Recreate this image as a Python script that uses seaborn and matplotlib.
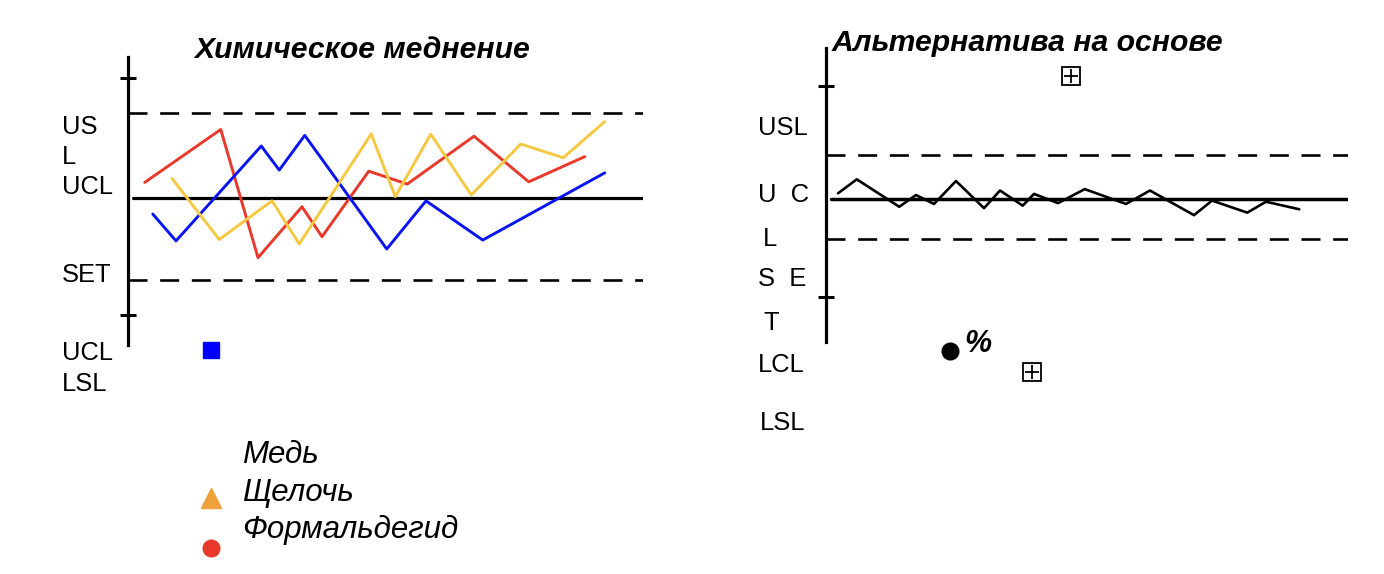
#--Import libraries--#
import seaborn as sns
import matplotlib.pyplot as plt
from matplotlib.lines import Line2D

#--Data (x = sample time, y = deviation from centre line)--#
copper_x = [0.99, 1.92, 5.33, 6.05, 7.07, 10.35, 11.92, 14.19, 19.07]
copper_y = [-0.57, -1.53, 1.86, 1.0, 2.24, -1.82, -0.1, -1.5, 0.9]

alkali_x = [1.76, 3.65, 5.76, 6.85, 9.73, 10.69, 12.11, 13.73, 15.71, 17.41, 19.07]
alkali_y = [0.7, -1.48, -0.1, -1.64, 2.29, 0.05, 2.28, 0.11, 1.93, 1.44, 2.73]

formal_x = [0.67, 3.71, 5.2, 6.96, 7.76, 9.63, 11.17, 13.84, 16.03, 18.27]
formal_y = [0.56, 2.45, -2.13, -0.31, -1.38, 0.96, 0.5, 2.21, 0.58, 1.48]

alt_x = [0.48, 1.23, 2.93, 3.6, 4.32, 5.2, 6.32, 6.96, 7.87, 8.32, 9.28,
         10.35, 12.0, 12.96, 14.72, 15.44, 16.85, 17.6, 18.93]
alt_y = [0.2, 0.7, -0.28, 0.14, -0.18, 0.64, -0.33, 0.3, -0.24, 0.18, -0.15,
         0.35, -0.18, 0.3, -0.58, -0.06, -0.49, -0.1, -0.37]

left_ucl, left_lcl = 3.04, -2.93
right_ucl, right_lcl = 1.57, -1.43

left_labels = ['US', 'L', 'UCL', 'SET', 'UCL', 'LSL']
right_labels = ['USL', 'U  C', 'L', 'S  E', 'T', 'LCL', 'LSL']
legend_names = ['Медь', 'Щелочь', 'Формальдегид']

#--Styling--#
sns.set_theme(style='white')
plt.rcParams['font.family'] = ['Liberation Sans', 'DejaVu Sans']
plt.rcParams['text.color'] = 'black'

W, H = 1384, 574
fig = plt.figure(figsize=(W / 100, H / 100), dpi=100)


def px(x, y):
    return x / W, 1 - y / H


def make_axes(x0, x1, y0, y1):
    l, b = px(x0, y1)
    return fig.add_axes([l, b, (x1 - x0) / W, (y1 - y0) / H])


dash = (0, (7.2, 4.8))


def style_axes(ax, xmax, ylo, yhi, ticks):
    ax.set_xlim(0, xmax)
    ax.set_ylim(ylo, yhi)
    for s in ['top', 'right', 'bottom']:
        ax.spines[s].set_visible(False)
    ax.spines['left'].set_linewidth(2.3)
    ax.spines['left'].set_color('black')
    ax.set_xticks([])
    ax.set_yticks(ticks)
    ax.set_yticklabels([])
    ax.tick_params(axis='y', left=True, direction='inout', length=12, width=2.2, color='black')
    ax.patch.set_alpha(0)


#--Left panel--#
ax1 = make_axes(128, 643, 57, 345)
style_axes(ax1, 20.6, -5.25, 5.04, [4.29, -4.18])
ax1.axhline(left_ucl, color='black', lw=1.9, ls=dash)
ax1.axhline(left_lcl, color='black', lw=1.9, ls=dash)
ax1.axhline(0, xmin=0.01, color='black', lw=2.3)
sns.lineplot(x=formal_x, y=formal_y, ax=ax1, color='#e8392b', lw=2.1, sort=False, estimator=None)
sns.lineplot(x=copper_x, y=copper_y, ax=ax1, color='#0a14f0', lw=2.1, sort=False, estimator=None)
sns.lineplot(x=alkali_x, y=alkali_y, ax=ax1, color='#f5c842', lw=2.1, sort=False, estimator=None)

fig.text(*px(362, 50), 'Химическое меднение', ha='center', va='center',
         fontsize=21.7, fontweight='bold', fontstyle='italic')

for lab, yy in zip(left_labels, [127, 157, 187, 275, 353, 384]):
    fig.text(*px(62, yy), lab, ha='left', va='center', fontsize=18.4)

#--Legend fragments--#
for (mx, my), mk, col, ms in zip([(211, 350), (211, 498), (211, 548)],
                                 ['s', '^', 'o'],
                                 ['#0000ff', '#f0a03a', '#e8392b'],
                                 [11, 14, 12]):
    fig.add_artist(Line2D([px(mx, my)[0]], [px(mx, my)[1]], marker=mk, color=col,
                          markersize=ms, transform=fig.transFigure, linestyle='none'))

for name, yy in zip(legend_names, [455, 493, 530]):
    fig.text(*px(242, yy), name, ha='left', va='center', fontsize=22.5, fontstyle='italic')

#--Right panel--#
ax2 = make_axes(826, 1348, 48, 342)
style_axes(ax2, 20.88, -5.11, 5.39, [4.04, -3.5])
ax2.axhline(right_ucl, color='black', lw=1.9, ls=dash)
ax2.axhline(right_lcl, color='black', lw=1.9, ls=dash)
ax2.axhline(0, xmin=0.01, color='black', lw=2.5)
sns.lineplot(x=alt_x, y=alt_y, ax=ax2, color='black', lw=1.9, sort=False, estimator=None)

fig.text(*px(1027, 43), 'Альтернатива на основе', ha='center', va='center',
         fontsize=21.7, fontweight='bold', fontstyle='italic')

for lab, (xx, yy) in zip(right_labels, [(758, 128), (758, 195), (763, 239), (758, 279),
                                        (763, 323), (758, 365), (760, 423)]):
    fig.text(*px(xx, yy), lab, ha='left', va='center', fontsize=18.4)

for bx, by in [(1071, 76), (1032, 372)]:
    fig.add_artist(Line2D([px(bx, by)[0]], [px(bx, by)[1]], marker='s', markersize=13.5,
                          markerfacecolor='white', markeredgecolor='black', markeredgewidth=1.3,
                          transform=fig.transFigure, linestyle='none'))
    fig.add_artist(Line2D([px(bx, by)[0]], [px(bx, by)[1]], marker='+', markersize=10,
                          color='black', markeredgewidth=1.3,
                          transform=fig.transFigure, linestyle='none'))

fig.add_artist(Line2D([px(950, 351)[0]], [px(950, 351)[1]], marker='o', markersize=12,
                      color='black', transform=fig.transFigure, linestyle='none'))
fig.text(*px(978, 344), '%', ha='center', va='center', fontsize=22,
         fontweight='bold', fontstyle='italic')

plt.savefig('out.png', dpi=100)
